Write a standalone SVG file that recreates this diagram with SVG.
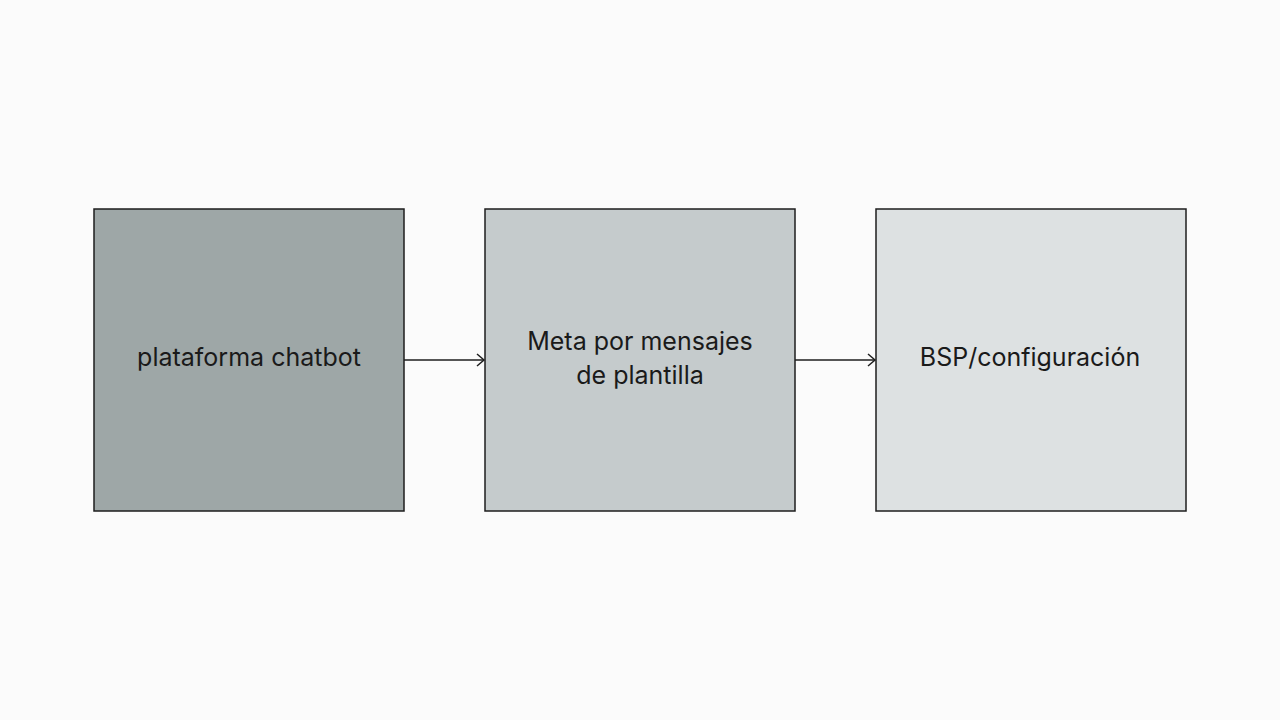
<svg xmlns="http://www.w3.org/2000/svg" width="1280" height="720" viewBox="0 0 1280 720">
<style>
.box{stroke:#1e1e1e;stroke-width:1.5}
.t{font-family:Inter,"Liberation Sans",sans-serif;font-size:25px;fill:#1a1a1a;text-anchor:middle}
.c{stroke:#1e1e1e;stroke-width:1.5;fill:none}
</style>
<defs>
<marker id="a" markerWidth="14" markerHeight="14" refX="11" refY="7" orient="auto" markerUnits="userSpaceOnUse">
<path d="M4,1 L11,7 L4,13" fill="none" stroke="#1e1e1e" stroke-width="1.5"/>
</marker>
</defs>
<rect width="1280" height="720" fill="#fbfbfb"/>
<g id="n1"><rect class="box" x="94" y="209" width="310" height="302" fill="#9ea7a7"/><text class="t" x="249" y="366">plataforma chatbot</text></g>
<g id="n2"><rect class="box" x="485" y="209" width="310" height="302" fill="#c5cbcc"/><text class="t" x="640" y="350">Meta por mensajes</text><text class="t" x="640" y="384">de plantilla</text></g>
<g id="n3"><rect class="box" x="876" y="209" width="310" height="302" fill="#dde1e2"/><text class="t" x="1030" y="366">BSP/configuración</text></g>
<g id="connectors">
<line class="c" x1="404" y1="360" x2="484" y2="360" marker-end="url(#a)"/>
<line class="c" x1="795" y1="360" x2="875" y2="360" marker-end="url(#a)"/>
</g>
</svg>
